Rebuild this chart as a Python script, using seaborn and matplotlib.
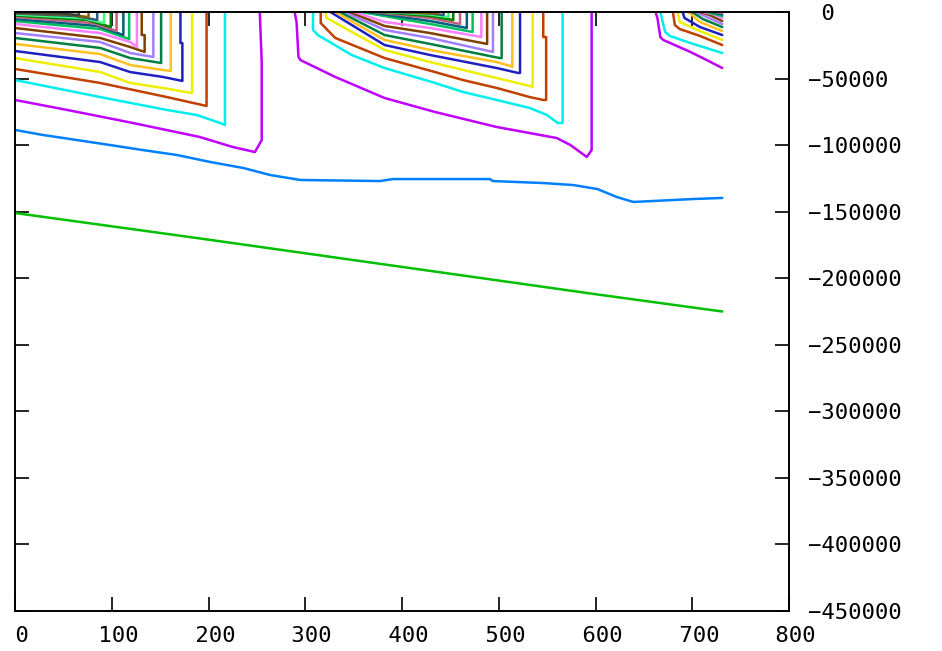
# -*- coding: utf-8 -*-
import pandas as pd
import matplotlib
matplotlib.use('Agg')
import matplotlib.pyplot as plt
from matplotlib.ticker import MultipleLocator, FuncFormatter
import seaborn as sns

# ---------------------------------------------------------------------------------------
## 0. Data (contour lines)

# colours of the contour levels, lowest level first
level_colors = ['#00c000', '#0080ff', '#c000ff', '#00eeee', '#c04000', '#eeee00',
                '#2020c0', '#ffc020', '#008040', '#a080ff', '#804000', '#ff80ff',
                '#00c060', '#006080', '#c06080', '#008000', '#40ff80', '#306080',
                '#806000', '#404040']

# the two levels that run over the whole range
green_x = [0, 190, 400, 600, 731]
green_y = [-151000, -170000, -191500, -212000, -225000]

blue_x = [0, 29, 64, 98, 132, 167, 202, 236, 264, 295, 377, 391, 491, 494, 546,
          577, 602, 622, 639, 659, 701, 731]
blue_y = [-88600, -92400, -96200, -99900, -103700, -107400, -112700, -117200,
          -122500, -126200, -127000, -125500, -125500, -127000, -128500, -130000,
          -133000, -139000, -142700, -142000, -140500, -139700]

# first block (x 0..260), level 3 (magenta) upwards
b1_x = [[0, 54, 122, 191, 225, 248, 255, 255, 253],
        [0, 88, 157, 188, 212, 217, 217],
        [0, 88, 157, 198, 198],
        [0, 88, 119, 153, 183, 183],
        [0, 88, 119, 153, 173, 173, 171, 171],
        [0, 88, 119, 153, 161, 161],
        [0, 88, 119, 151, 151],
        [0, 88, 119, 143, 143],
        [0, 88, 119, 134, 134, 131, 131],
        [0, 88, 119, 126, 126],
        [0, 88, 118, 118],
        [0, 85, 112, 112],
        [0, 80, 105, 105],
        [0, 75, 99, 99],
        [0, 70, 92, 92],
        [0, 62, 85, 85],
        [0, 55, 76, 76],
        [0, 45, 66, 66]]
b1_y = [[-66100, -73600, -83400, -93900, -101400, -105200, -96200, -37600, 0],
        [-51100, -63900, -73600, -77400, -83400, -84900, 0],
        [-42800, -53300, -63900, -70600, 0],
        [-34600, -45100, -53300, -57100, -60900, 0],
        [-29300, -37600, -45100, -48800, -51800, -23300, -23300, 0],
        [-24000, -31600, -39800, -43600, -44300, 0],
        [-19500, -27000, -34600, -38300, 0],
        [-15800, -22500, -30800, -33800, 0],
        [-12000, -19500, -26300, -30000, -17300, -17300, 0],
        [-9000, -15800, -22500, -26300, 0],
        [-6800, -12800, -20300, 0],
        [-5300, -10500, -17300, 0],
        [-3800, -8300, -14300, 0],
        [-2600, -6000, -11300, 0],
        [-1900, -4500, -8300, 0],
        [-1100, -3000, -6000, 0],
        [-700, -1900, -3800, 0],
        [-400, -1100, -2300, 0]]

# second block (x 290..600)
b2_x = [[289, 291, 293, 295, 331, 382, 434, 498, 560, 574, 591, 596, 596],
        [308, 308, 313, 348, 382, 434, 463, 498, 532, 550, 561, 566, 566],
        [316, 316, 331, 382, 434, 463, 498, 532, 546, 549, 549, 546, 546],
        [321, 322, 382, 429, 498, 532, 535, 535],
        [326, 382, 429, 498, 520, 522, 522],
        [331, 382, 429, 498, 512, 514, 514],
        [336, 382, 429, 501, 503, 503],
        [341, 382, 429, 494, 494],
        [346, 382, 429, 488, 488],
        [351, 382, 429, 482, 482],
        [358, 429, 473, 473],
        [364, 429, 467, 467],
        [370, 429, 460, 460],
        [377, 429, 453, 453],
        [384, 429, 448, 448],
        [391, 430, 443, 443],
        [398, 437, 437]]
b2_y = [[0, -7500, -33800, -36100, -48800, -64600, -75100, -86400, -94700, -99900,
         -108900, -103700, 0],
        [0, -13500, -17300, -32300, -42100, -53300, -60100, -66100, -72100, -77400,
         -83400, -83400, 0],
        [0, -8300, -19500, -34600, -45100, -51100, -57100, -63900, -66100, -66100,
         -18800, -18800, 0],
        [0, -4500, -28500, -37600, -49600, -55600, -56300, 0],
        [0, -24800, -32300, -42100, -45800, -45800, 0],
        [0, -21000, -28500, -37600, -40600, -41300, 0],
        [0, -17300, -24000, -34600, -34600, 0],
        [0, -13500, -19500, -30000, 0],
        [0, -10500, -15800, -24000, 0],
        [0, -7500, -12000, -18800, 0],
        [0, -9000, -15000, 0],
        [0, -6800, -12000, 0],
        [0, -4500, -9000, 0],
        [0, -3000, -6000, 0],
        [0, -1900, -3800, 0],
        [0, -1200, -2300, 0],
        [0, -1100, 0]]

# third block (x 660..731, cut at the end of the data)
b3_x = [[662, 664, 667, 670, 698, 715, 731],
        [667, 669, 672, 677, 698, 731],
        [680, 682, 687, 708, 731],
        [685, 687, 708, 731],
        [690, 692, 708, 731],
        [696, 708, 731],
        [700, 711, 731],
        [704, 715, 731],
        [708, 718, 731],
        [711, 721, 731],
        [715, 731],
        [719, 731],
        [723, 731]]
b3_y = [[0, -4500, -18800, -21000, -30000, -36100, -42100],
        [0, -6000, -15000, -18000, -23300, -30800],
        [0, -9800, -12800, -18000, -24800],
        [0, -7500, -14300, -21000],
        [0, -4500, -11300, -17300],
        [0, -7500, -14300],
        [0, -5300, -11300],
        [0, -3800, -9000],
        [0, -2300, -6800],
        [0, -1500, -4500],
        [0, -3000],
        [0, -1800],
        [0, -900]]

# ---------------------------------------------------------------------------------------
## 1. Long table, one id per contour piece

frames = []
palette = {}

def add_line(name, level, xs, ys):
    frames.append(pd.DataFrame({'x': xs, 'y': ys, 'line': name}))
    palette[name] = level_colors[level]

add_line('green', 0, green_x, green_y)
add_line('blue', 1, blue_x, blue_y)
for block, (bx, by) in enumerate([(b1_x, b1_y), (b2_x, b2_y), (b3_x, b3_y)]):
    for i, (xs, ys) in enumerate(zip(bx, by)):
        add_line(f'b{block}_{i}', i + 2, xs, ys)

contours_df = pd.concat(frames, ignore_index=True)

# ---------------------------------------------------------------------------------------
## 2. Plot

sns.set_style('white')
plt.rcParams['font.family'] = ['DejaVu Sans Mono']

fig = plt.figure(figsize=(9.42, 6.51), dpi=100)
ax = fig.add_axes([15 / 942, 40 / 651, 774 / 942, 599 / 651])

sns.lineplot(data=contours_df, x='x', y='y', hue='line', palette=palette,
             sort=False, estimator=None, legend=False, linewidth=1.8, ax=ax)

ax.set_xlim(0, 800)
ax.set_ylim(-450000, 0)
ax.xaxis.set_major_locator(MultipleLocator(100))
ax.yaxis.set_major_locator(MultipleLocator(50000))

# gnuplot style labels: a leading space for positive numbers
fmt = FuncFormatter(lambda v, p: f' {v:.0f}' if v >= 0 else f'{v:.0f}'.replace('-', '\u2212'))
ax.xaxis.set_major_formatter(fmt)
ax.yaxis.set_major_formatter(fmt)

ax.tick_params(direction='in', length=10, width=1.2, color='black',
               top=True, bottom=True, left=True, right=True,
               labelleft=False, labelright=True, labelsize=16, labelcolor='black')
ax.tick_params(axis='x', pad=11)
ax.tick_params(axis='y', pad=14)
for label in ax.get_yticklabels():
    label.set_horizontalalignment('left')

for spine in ax.spines.values():
    spine.set_color('black')
    spine.set_linewidth(1.4)

ax.set_xlabel('')
ax.set_ylabel('')

fig.savefig('out.png', dpi=100)
